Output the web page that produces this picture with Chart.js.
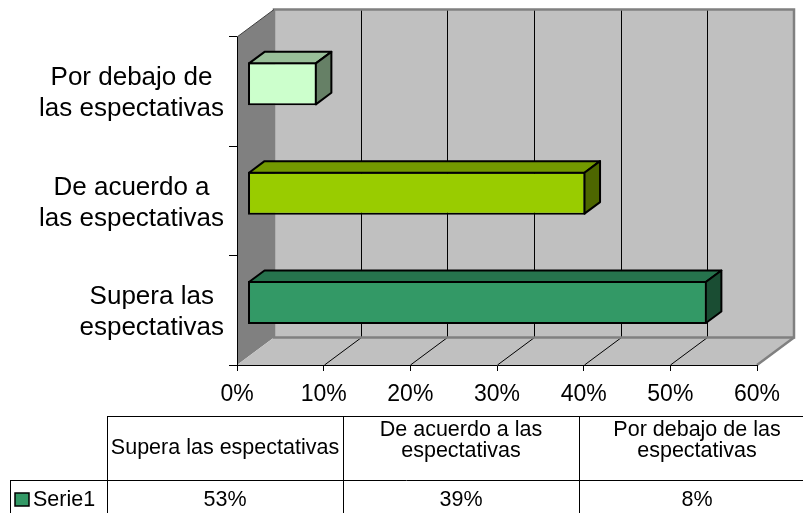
<!DOCTYPE html>
<html lang="es">
<head>
<meta charset="utf-8">
<title>Espectativas</title>
<script src="https://cdn.jsdelivr.net/npm/chart.js@4.4.1/dist/chart.umd.min.js"></script>
<style>
  html, body { margin: 0; padding: 0; background: #fff; }
  #grafico { display: block; }
</style>
</head>
<body>
<canvas id="grafico" width="803" height="513"></canvas>
<script>
// Datos de la serie (orden de la tabla)
const categorias = ['Supera las espectativas', 'De acuerdo a las espectativas', 'Por debajo de las espectativas'];
const serie1 = [53, 39, 8];
const nombreSerie = 'Serie1';
const ticksX = [0, 10, 20, 30, 40, 50, 60];
const etiquetasEje = [['Supera las', 'espectativas'], ['De acuerdo a', 'las espectativas'], ['Por debajo de', 'las espectativas']];
const etiquetasTabla = [['Supera las espectativas'], ['De acuerdo a las', 'espectativas'], ['Por debajo de las', 'espectativas']];

// Colores de cada barra: frente, tapa y lado
const colorFrente = ['#339966', '#99CC00', '#CCFFCC'];
const colorTapa = ['#26734D', '#739900', '#99BF99'];
const colorLado = ['#1A4D33', '#4D6600', '#668066'];

const FUENTE = "'Liberation Sans', Arial, sans-serif";
const PROF = { x: 37, y: -27.5 };   // profundidad del fondo
const OFF_BARRA = 0.284;             // donde empieza la barra en la profundidad
const PROF_BARRA = 0.42;             // grosor de la barra en la profundidad

Chart.defaults.font.family = FUENTE;
Chart.defaults.color = '#000';

function poligono(ctx, pts, relleno) {
    ctx.beginPath();
    ctx.moveTo(pts[0][0], pts[0][1]);
    for (let i = 1; i < pts.length; i++) ctx.lineTo(pts[i][0], pts[i][1]);
    ctx.closePath();
    if (relleno) { ctx.fillStyle = relleno; ctx.fill(); }
}

// Paredes, suelo y rejilla en 3D
const paredes = {
    id: 'paredes',
    beforeDraw(chart) {
        const { ctx, chartArea: a, scales: { x } } = chart;
        const dx = PROF.x, dy = PROF.y;
        ctx.save();
        poligono(ctx, [[a.left, a.top], [a.left + dx, a.top + dy], [a.left + dx, a.bottom + dy], [a.left, a.bottom]], '#808080');
        poligono(ctx, [[a.left, a.bottom], [a.left + dx, a.bottom + dy], [a.right + dx, a.bottom + dy], [a.right, a.bottom]], '#C0C0C0');
        ctx.fillStyle = '#C0C0C0';
        ctx.fillRect(a.left + dx, a.top + dy, a.right - a.left, a.bottom - a.top);

        ctx.strokeStyle = '#000';
        ctx.lineWidth = 1;
        ticksX.slice(1, -1).forEach(v => {
            const px = Math.round(x.getPixelForValue(v)) + 0.5;
            ctx.beginPath();
            ctx.moveTo(px + dx, a.top + dy);
            ctx.lineTo(px + dx, a.bottom + dy);
            ctx.moveTo(px, a.bottom);
            ctx.lineTo(px + dx, a.bottom + dy);
            ctx.stroke();
        });

        ctx.strokeStyle = '#808080';
        ctx.lineWidth = 2.5;
        ctx.strokeRect(a.left + dx, a.top + dy, a.right - a.left, a.bottom - a.top);
        ctx.beginPath();
        ctx.moveTo(a.right, a.bottom);
        ctx.lineTo(a.right + dx, a.bottom + dy);
        ctx.stroke();

        ctx.strokeStyle = '#404040';
        ctx.lineWidth = 1;
        ctx.beginPath();
        ctx.moveTo(a.left, a.top);
        ctx.lineTo(a.left + dx, a.top + dy);
        ctx.stroke();
        ctx.restore();
    }
};

// Barras: el frente lo dibuja Chart.js desplazado, la tapa y el lado aqui
const barras3d = {
    id: 'barras3d',
    beforeDatasetsDraw(chart) {
        chart.ctx.save();
        chart.ctx.translate(PROF.x * OFF_BARRA, PROF.y * OFF_BARRA);
    },
    afterDatasetsDraw(chart) {
        const ctx = chart.ctx;
        ctx.restore();
        const ox = PROF.x * OFF_BARRA, oy = PROF.y * OFF_BARRA;
        const bx = PROF.x * PROF_BARRA, by = PROF.y * PROF_BARRA;
        ctx.save();
        ctx.strokeStyle = '#000';
        ctx.lineWidth = 2;
        ctx.lineJoin = 'round';
        chart.getDatasetMeta(0).data.forEach((barra, i) => {
            const { x, y, base, height } = barra.getProps(['x', 'y', 'base', 'height'], true);
            const l = Math.min(base, x) + ox + 1, r = Math.max(base, x) + ox - 1;
            const t = y - height / 2 + oy + 1, b = y + height / 2 + oy - 1;
            poligono(ctx, [[l, t], [l + bx, t + by], [r + bx, t + by], [r, t]], colorTapa[i]);
            ctx.stroke();
            poligono(ctx, [[r, t], [r + bx, t + by], [r + bx, b + by], [r, b]], colorLado[i]);
            ctx.stroke();
        });
        ctx.restore();
    }
};

// Etiquetas de categoria (centradas dentro de su bloque, alineado a la derecha)
const etiquetasY = {
    id: 'etiquetasY',
    afterDraw(chart) {
        const { ctx, scales: { y } } = chart;
        ctx.save();
        ctx.font = '26px ' + FUENTE;
        ctx.fillStyle = '#000';
        ctx.textAlign = 'center';
        ctx.textBaseline = 'middle';
        const derecha = 224, alto = 31;
        etiquetasEje.forEach((lineas, i) => {
            const ancho = Math.max(...lineas.map(l => ctx.measureText(l).width));
            const cx = derecha - ancho / 2;
            const cy = y.getPixelForTick(i) + 2;
            lineas.forEach((l, k) => {
                ctx.fillText(l, cx, cy + (k - (lineas.length - 1) / 2) * alto);
            });
        });
        ctx.restore();
    }
};

// Tabla de datos bajo el grafico
const tabla = {
    id: 'tabla',
    afterDraw(chart) {
        const ctx = chart.ctx;
        const arriba = 416, fila = 480, x0 = 107, ancho = 236, xLeyenda = 10, fin = chart.width;
        ctx.save();
        ctx.strokeStyle = '#000';
        ctx.lineWidth = 1;
        ctx.beginPath();
        ctx.moveTo(x0, arriba + 0.5); ctx.lineTo(fin, arriba + 0.5);
        ctx.moveTo(xLeyenda, fila + 0.5); ctx.lineTo(fin, fila + 0.5);
        ctx.moveTo(xLeyenda + 0.5, fila); ctx.lineTo(xLeyenda + 0.5, chart.height);
        for (let i = 0; i < categorias.length; i++) {
            const xl = x0 + ancho * i + 0.5;
            ctx.moveTo(xl, arriba); ctx.lineTo(xl, chart.height);
        }
        ctx.stroke();

        ctx.font = '21.5px ' + FUENTE;
        ctx.fillStyle = '#000';
        ctx.textAlign = 'center';
        ctx.textBaseline = 'middle';
        etiquetasTabla.forEach((lineas, i) => {
            const cx = x0 + ancho * (i + 0.5);
            if (lineas.length === 1) {
                ctx.fillText(lineas[0], cx, 448);
            } else {
                lineas.forEach((l, k) => ctx.fillText(l, cx, 430 + k * 21.5));
            }
            ctx.fillText(serie1[i] + '%', cx, 500.5);
        });

        ctx.fillStyle = colorFrente[0];
        ctx.fillRect(15, 493, 14, 13);
        ctx.lineWidth = 1.5;
        ctx.strokeRect(15, 493, 14, 13);
        ctx.fillStyle = '#000';
        ctx.textAlign = 'left';
        ctx.fillText(nombreSerie, 33, 500.5);
        ctx.restore();
    }
};

const ctx = document.getElementById('grafico').getContext('2d');
const grafico = new Chart(ctx, {
    type: 'bar',
    data: {
        labels: categorias,
        datasets: [{
            label: nombreSerie,
            data: serie1,
            backgroundColor: colorFrente,
            borderColor: '#000',
            borderWidth: 2,
            borderSkipped: false,
            categoryPercentage: 1,
            barPercentage: 0.393,
            clip: false
        }]
    },
    options: {
        indexAxis: 'y',
        responsive: false,
        animation: false,
        layout: { padding: { top: 37, right: 46, left: 0, bottom: 0 } },
        plugins: {
            legend: { display: false },
            tooltip: { enabled: false }
        },
        scales: {
            x: {
                min: 0,
                max: 60,
                afterBuildTicks: s => { s.ticks = ticksX.map(v => ({ value: v })); },
                ticks: { callback: v => v + '%', color: '#000', font: { size: 23 }, padding: 10 },
                grid: { drawOnChartArea: false, drawTicks: true, tickLength: 6, color: '#000' },
                border: { display: true, color: '#000', width: 1 },
                afterFit: s => { s.height = 148; }
            },
            y: {
                reverse: true,
                grid: { drawOnChartArea: false, drawTicks: true, tickLength: 8, color: '#000', offset: true },
                border: { display: true, color: '#000', width: 1 },
                ticks: { display: false },
                afterFit: s => { s.width = 237; }
            }
        }
    },
    plugins: [paredes, barras3d, etiquetasY, tabla]
});
</script>
</body>
</html>
